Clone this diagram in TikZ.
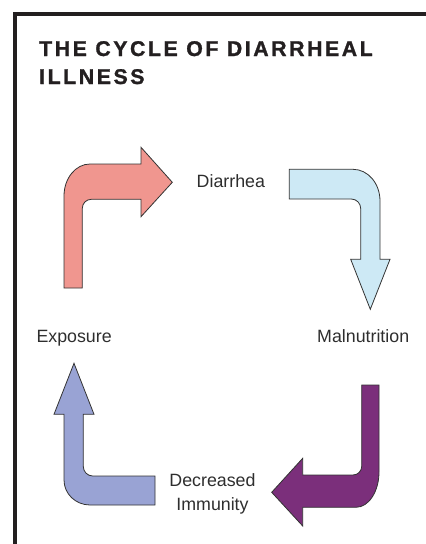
\documentclass[tikz,border=0pt]{standalone}
\usepackage{fontspec}
\setmainfont{Liberation Sans}
\newfontfamily\titlefont[LetterSpace=12,FakeBold=1.2]{Liberation Sans Bold}
\definecolor{framec}{HTML}{231F20}
\definecolor{labelc}{HTML}{2E2E2E}
\definecolor{pinkc}{HTML}{F0968F}
\definecolor{skyc}{HTML}{CDE9F5}
\definecolor{plumc}{HTML}{7B2F7B}
\definecolor{peric}{HTML}{99A3D4}
\tikzset{
  bigarrow/.style={draw=black!80, line width=0.8pt, line join=miter},
  lbl/.style={inner sep=0pt, font=\fontsize{17.8}{23}\selectfont, text=labelc},
  ttl/.style={inner sep=0pt, font=\titlefont\fontsize{21.3}{28}\selectfont, text=framec}
}
\begin{document}
\begin{tikzpicture}[x=1pt,y=-1pt]
\useasboundingbox (0,0) rectangle (426,544);
% frame
\draw[framec, line width=4pt, line join=miter] (15.3,546) -- (15.3,13.7) -- (428,13.7);
% title
\node[ttl, anchor=base west] (t1) at (39,56) {THE CYCLE OF DIARRHEAL};
\node[ttl, anchor=base west] (t2) at (39,84) {ILLNESS};
% pink arrow (exposure -> diarrhea)
\path[bigarrow, fill=pinkc] (64,288) -- (64,196) .. controls (64,178.3) and (75.6,164) .. (90,164)
  -- (141,164) -- (141,147.3) -- (172.3,182.3) -- (141,216.7) -- (141,199.3) -- (91.3,199.3)
  .. controls (86.3,199.3) and (82.3,203.3) .. (82.3,208.3) -- (82.3,288) -- cycle;
% light blue arrow (diarrhea -> malnutrition)
\path[bigarrow, fill=skyc] (289.3,169.3) -- (353,169.3) .. controls (367.9,169.3) and (380,183.3) .. (380,201)
  -- (380,259.3) -- (390,259.3) -- (370.3,309.3) -- (350.7,259.3) -- (360.7,259.3) -- (360.7,208.5)
  .. controls (360.7,203.3) and (356.5,199) .. (351.3,199) -- (289.3,199) -- cycle;
% purple arrow (malnutrition -> decreased immunity)
\path[bigarrow, fill=plumc] (361.7,385) -- (379,385) -- (379,472) .. controls (379,491.5) and (368.7,507.3) .. (356,507.3)
  -- (302.7,507.3) -- (302.7,526) -- (271.7,492.3) -- (302.7,458.3) -- (302.7,475) -- (353,475)
  .. controls (357.8,475) and (361.7,471.1) .. (361.7,466.3) -- cycle;
% periwinkle arrow (decreased immunity -> exposure)
\path[bigarrow, fill=peric] (155,505) -- (90,505) .. controls (75.6,505) and (64,493.8) .. (64,480)
  -- (64,414.3) -- (54,414.3) -- (74,363.3) -- (94,414.3) -- (83.3,414.3) -- (83.3,466.5)
  .. controls (83.3,471.7) and (87.5,476) .. (92.7,476) -- (155,476) -- cycle;
% labels
\node[lbl, anchor=base west] (diarrhea) at (196.5,187.7) {Diarrhea};
\node[lbl, anchor=base west] (exposure) at (36.3,342) {Exposure};
\node[lbl, anchor=base west] (malnut) at (317,342) {Malnutrition};
\node[lbl, anchor=base] (decr) at (212.5,486.7) {Decreased};
\node[lbl, anchor=base] (immun) at (212.5,510) {Immunity};
\end{tikzpicture}
\end{document}
